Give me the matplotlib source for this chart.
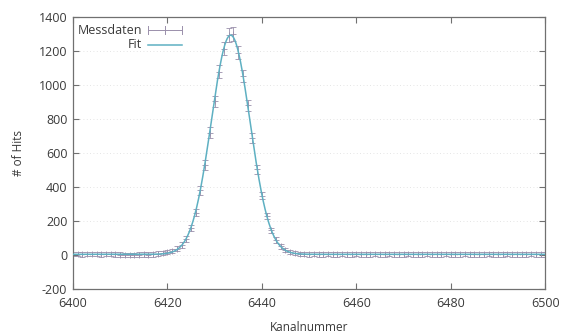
import matplotlib
matplotlib.use("Agg")
import matplotlib.pyplot as plt
import numpy as np

plt.rcParams["font.family"] = ["Open Sans", "DejaVu Sans"]
plt.rcParams["axes.unicode_minus"] = False

# Channel spectrum 6400..6500, one count per channel
CHANNELS = list(range(6400, 6501))
COUNTS = [
    5, 6, 4, 5, 7, 5, 4, 6, 5, 4,
    2, 1, 0, 1, 2, 3, 2, 4, 8, 12,
    18, 24, 36, 58, 96, 160, 250, 380, 530, 720,
    905, 1080, 1215, 1295, 1300, 1190, 1055, 880, 690, 505,
    350, 230, 145, 88, 52, 30, 18, 10, 6, 5,
    4, 5, 3, 4, 5, 4, 3, 5, 4, 4,
    5, 3, 4, 4, 5, 3, 4, 5, 4, 3,
    4, 5, 4, 3, 4, 5, 4, 4, 3, 5,
    4, 3, 4, 5, 4, 4, 3, 4, 5, 4,
    3, 4, 5, 4, 3, 4, 4, 5, 4, 3,
    4,
]
ERRORS = [
    13, 13, 13, 13, 13, 13, 13, 13, 13, 13,
    13, 13, 13, 13, 13, 13, 13, 13, 13, 14,
    14, 14, 15, 16, 17, 19, 21, 24, 27, 31,
    33, 36, 38, 40, 40, 38, 36, 33, 30, 26,
    22, 19, 16, 15, 14, 14, 13, 13, 13, 13,
    13, 13, 13, 13, 13, 13, 13, 13, 13, 13,
    13, 13, 13, 13, 13, 13, 13, 13, 13, 13,
    13, 13, 13, 13, 13, 13, 13, 13, 13, 13,
    13, 13, 13, 13, 13, 13, 13, 13, 13, 13,
    13, 13, 13, 13, 13, 13, 13, 13, 13, 13,
    13,
]

# Gaussian fit parameters: amplitude, centre, sigma, offset
FIT_AMP = 1290.0
FIT_MU = 6433.4
FIT_SIGMA = 4.1
FIT_OFFSET = 4.0

DATA_COLOR = "#9a8fab"
FIT_COLOR = "#5eb0c2"
TEXT_COLOR = "#3a3a3a"
FRAME_COLOR = "#707070"


def gauss(x):
    return FIT_AMP * np.exp(-(x - FIT_MU) ** 2 / (2 * FIT_SIGMA ** 2)) + FIT_OFFSET


fig = plt.figure(figsize=(5.65, 3.36), dpi=100)
ax = fig.add_axes([0.129, 0.140, 0.836, 0.809])

ax.errorbar(CHANNELS, COUNTS, yerr=ERRORS, fmt="+", color=DATA_COLOR,
            ms=4, mew=0.6, elinewidth=0.6, capsize=2.4, capthick=0.6, zorder=2)

xs = np.linspace(6400, 6500, 1001)
ax.plot(xs, gauss(xs), color=FIT_COLOR, lw=1.1, zorder=3)

ax.set_xlim(6400, 6500)
ax.set_ylim(-200, 1400)
ax.set_xticks(np.arange(6400, 6501, 20))
ax.set_yticks(np.arange(-200, 1401, 200))
ax.grid(axis="y", color="#dcdcdc", lw=0.6, ls=(0, (1, 3)), zorder=0)

ax.tick_params(direction="in", top=True, right=True, length=4, width=0.8,
               color=FRAME_COLOR, labelcolor=TEXT_COLOR, labelsize=9)
ax.tick_params(axis="x", pad=6)
ax.tick_params(axis="y", pad=4)
for spine in ax.spines.values():
    spine.set_color(FRAME_COLOR)
    spine.set_linewidth(0.9)

ax.set_xlabel("Kanalnummer", fontsize=8.5, color=TEXT_COLOR, labelpad=8)
ax.set_ylabel("# of Hits", fontsize=8.5, color=TEXT_COLOR, labelpad=10)

# gnuplot-style key in the upper left corner
tr = ax.transAxes
ax.text(0.146, 0.952, "Messdaten", transform=tr, ha="right", va="center",
        fontsize=9, color=TEXT_COLOR)
ax.text(0.146, 0.898, "Fit", transform=tr, ha="right", va="center",
        fontsize=9, color=TEXT_COLOR)
ax.plot([0.158, 0.230], [0.952, 0.952], transform=tr, color=DATA_COLOR, lw=0.7)
for xk in (0.158, 0.194, 0.230):
    ax.plot([xk, xk], [0.937, 0.967], transform=tr, color=DATA_COLOR, lw=0.7)
ax.plot([0.158, 0.230], [0.898, 0.898], transform=tr, color=FIT_COLOR, lw=1.1)

fig.savefig("out.png", dpi=100)
